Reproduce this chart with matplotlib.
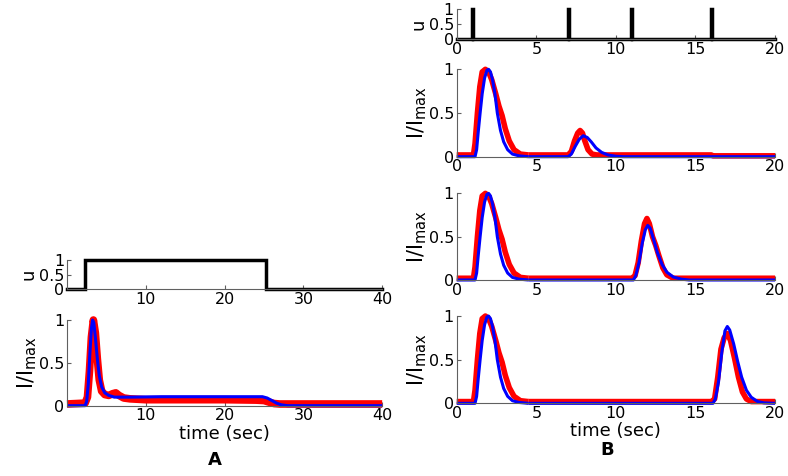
import matplotlib

matplotlib.use("Agg")
import matplotlib.pyplot as plt

# ---- panel A: long step stimulus ----
a_u_t = [0, 2.25, 2.25, 25.3, 25.3, 40]
a_u_v = [0, 0, 1, 1, 0, 0]

a_red_t = [0, 2.3, 2.6, 2.85, 3.1, 3.35, 3.6, 3.85, 4.1, 4.4, 4.8, 5.3, 5.8, 6.2, 6.6,
           7.2, 8, 10, 15, 20, 24, 25, 25.7, 26.3, 27, 40]
a_red_v = [0.02, 0.03, 0.1, 0.4, 0.8, 1.0, 0.85, 0.55, 0.3, 0.17, 0.13, 0.12, 0.14, 0.15, 0.12,
           0.09, 0.08, 0.07, 0.07, 0.07, 0.065, 0.06, 0.04, 0.025, 0.02, 0.02]

a_blue_t = [0, 2.3, 2.5, 2.7, 2.9, 3.1, 3.25, 3.4, 3.6, 3.85, 4.1, 4.4, 4.8, 5.3, 6, 8, 12,
            20, 24.8, 25.4, 26.0, 26.6, 27.2, 28, 40]
a_blue_v = [0, 0, 0.05, 0.25, 0.6, 0.9, 1.0, 0.97, 0.8, 0.55, 0.35, 0.22, 0.15, 0.12, 0.1, 0.1, 0.105,
            0.105, 0.105, 0.09, 0.06, 0.03, 0.01, 0, 0]

# ---- panel B: short pulses ----
b_u_t = [0, 0.96, 0.96, 1.04, 1.04, 6.96, 6.96, 7.04, 7.04, 10.96, 10.96, 11.04, 11.04,
         15.96, 15.96, 16.04, 16.04, 20]
b_u_v = [0, 0, 1, 1, 0, 0, 1, 1, 0, 0, 1, 1, 0, 0, 1, 1, 0, 0]

# first response (shared shape in all three B traces)
peak1_red_t = [0, 1.05, 1.15, 1.3, 1.45, 1.6, 1.8, 2.0, 2.2, 2.45, 2.65, 2.85, 3.05, 3.3, 3.6, 4.0, 4.5]
peak1_red_v = [0.02, 0.02, 0.15, 0.5, 0.8, 0.97, 1.0, 0.97, 0.88, 0.72, 0.58, 0.47, 0.32, 0.18, 0.08, 0.03, 0.02]
peak1_blue_t = [0, 1.15, 1.25, 1.35, 1.47, 1.6, 1.75, 1.9, 2.0, 2.12, 2.25, 2.4, 2.55, 2.75, 2.95,
                3.2, 3.5, 3.9, 4.5]
peak1_blue_v = [0, 0, 0.08, 0.28, 0.5, 0.72, 0.9, 0.99, 1.0, 0.97, 0.88, 0.72, 0.5, 0.3, 0.17,
                0.08, 0.03, 0.01, 0]

b1_red_t = [4.5, 7.0, 7.2, 7.4, 7.6, 7.75, 7.9, 8.05, 8.25, 8.5, 8.8, 16, 16.1, 20]
b1_red_v = [0.02, 0.02, 0.06, 0.18, 0.27, 0.3, 0.27, 0.18, 0.08, 0.03, 0.02, 0.02, 0.01, 0.01]
b1_blue_t = [4.5, 7.0, 7.2, 7.45, 7.7, 7.95, 8.2, 8.45, 8.75, 9.1, 9.5, 10, 10.5, 20]
b1_blue_v = [0, 0, 0.03, 0.12, 0.2, 0.24, 0.22, 0.17, 0.1, 0.05, 0.02, 0.005, 0, 0]

b2_red_t = [4.5, 11.0, 11.2, 11.4, 11.6, 11.8, 11.95, 12.1, 12.3, 12.5, 12.7, 12.95, 13.2, 13.6, 20]
b2_red_v = [0.02, 0.02, 0.05, 0.2, 0.45, 0.65, 0.71, 0.65, 0.5, 0.4, 0.28, 0.14, 0.06, 0.02, 0.02]
b2_blue_t = [4.5, 11.1, 11.25, 11.45, 11.65, 11.85, 12.0, 12.15, 12.35, 12.6, 12.9, 13.2, 13.6, 14.1, 14.6, 20]
b2_blue_v = [0, 0, 0.05, 0.2, 0.42, 0.58, 0.63, 0.6, 0.48, 0.32, 0.18, 0.09, 0.035, 0.01, 0, 0]

b3_red_t = [4.5, 16.0, 16.2, 16.4, 16.6, 16.8, 17.0, 17.2, 17.45, 17.7, 17.95, 18.2, 18.5, 20]
b3_red_v = [0.02, 0.02, 0.05, 0.3, 0.62, 0.75, 0.8, 0.72, 0.52, 0.3, 0.13, 0.05, 0.02, 0.02]
b3_blue_t = [4.5, 16.1, 16.25, 16.45, 16.65, 16.85, 17.0, 17.15, 17.4, 17.65, 17.9, 18.2, 18.5, 18.9, 19.3, 20]
b3_blue_v = [0, 0, 0.05, 0.25, 0.58, 0.83, 0.88, 0.84, 0.68, 0.48, 0.3, 0.15, 0.07, 0.02, 0.005, 0]

y_ticks = [0, 0.5, 1]
y_tick_labels = ["0", "0.5", "1"]
a_x_ticks = [10, 20, 30, 40]
b_x_ticks = [0, 5, 10, 15, 20]

RED = "#ff0000"
BLUE = "#0000ff"
SPINE = "#606060"
IMAX = r"$\mathregular{I/I_{max}}$"

plt.rcParams["font.family"] = "DejaVu Sans"
plt.rcParams["font.size"] = 11


def style_axis(ax, xlim, xticks):
    """MATLAB-like look: left and bottom axis lines only, short inward ticks."""
    ax.set_xlim(*xlim)
    ax.set_ylim(0, 1)
    ax.set_xticks(xticks)
    ax.set_yticks(y_ticks)
    ax.set_yticklabels(y_tick_labels)
    for side in ("top", "right"):
        ax.spines[side].set_visible(False)
    for side in ("left", "bottom"):
        ax.spines[side].set_color(SPINE)
        ax.spines[side].set_linewidth(0.8)
    ax.tick_params(direction="in", length=3, width=0.8, color=SPINE, labelsize=11.5, pad=2)


def stim_axis(fig, rect, t, v, xlim, xticks):
    ax = fig.add_axes(rect)
    ax.plot(t, v, color="black", linewidth=2.5, clip_on=False, solid_joinstyle="miter")
    style_axis(ax, xlim, xticks)
    ax.set_ylabel("u", fontsize=13, labelpad=1)
    return ax


def response_axis(fig, rect, red, blue, xlim, xticks, red_lw=4):
    ax = fig.add_axes(rect)
    for t, v in red:
        ax.plot(t, v, color=RED, linewidth=red_lw, clip_on=False, solid_capstyle="butt")
    for t, v in blue:
        ax.plot(t, v, color=BLUE, linewidth=2.2, clip_on=False, solid_capstyle="butt")
    style_axis(ax, xlim, xticks)
    ax.set_ylabel(IMAX, fontsize=15, labelpad=0)
    return ax


fig = plt.figure(figsize=(7.88, 4.76), dpi=100)

# panel A
stim_axis(fig, [0.085, 0.392, 0.40, 0.0616], a_u_t, a_u_v, (0, 40), a_x_ticks)
ax = response_axis(fig, [0.085, 0.1477, 0.40, 0.18],
                   [(a_red_t, a_red_v)], [(a_blue_t, a_blue_v)], (0, 40), a_x_ticks, red_lw=5.5)
ax.set_xlabel("time (sec)", fontsize=13, labelpad=1)
fig.text(0.273, 0.015, "A", fontsize=13, fontweight="bold", ha="center", va="bottom")

# panel B
stim_axis(fig, [0.5796, 0.9174, 0.404, 0.063], b_u_t, b_u_v, (0, 20), b_x_ticks)
response_axis(fig, [0.5796, 0.6708, 0.404, 0.1836],
              [(peak1_red_t, peak1_red_v), (b1_red_t, b1_red_v)],
              [(peak1_blue_t, peak1_blue_v), (b1_blue_t, b1_blue_v)], (0, 20), b_x_ticks)
response_axis(fig, [0.5796, 0.4118, 0.404, 0.182],
              [(peak1_red_t, peak1_red_v), (b2_red_t, b2_red_v)],
              [(peak1_blue_t, peak1_blue_v), (b2_blue_t, b2_blue_v)], (0, 20), b_x_ticks)
ax = response_axis(fig, [0.5796, 0.1527, 0.404, 0.1834],
                   [(peak1_red_t, peak1_red_v), (b3_red_t, b3_red_v)],
                   [(peak1_blue_t, peak1_blue_v), (b3_blue_t, b3_blue_v)], (0, 20), b_x_ticks)
ax.set_xlabel("time (sec)", fontsize=13, labelpad=1)
fig.text(0.770, 0.035, "B", fontsize=13, fontweight="bold", ha="center", va="bottom")

fig.savefig("out.png", dpi=100)
plt.close(fig)
